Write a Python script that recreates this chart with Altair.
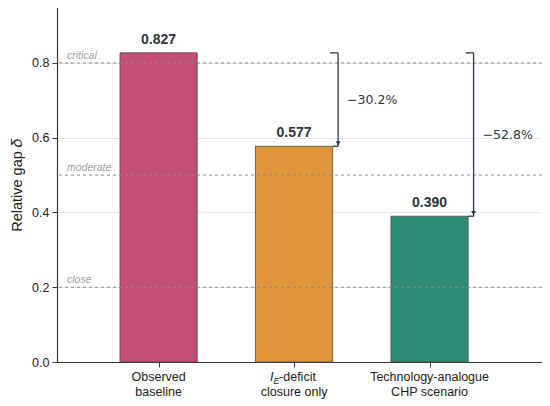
import altair as alt
import pandas as pd

categories = ["Observed baseline", "I_E-deficit closure only", "Technology-analogue CHP scenario"]
line1 = ["Observed", "", "Technology-analogue"]
line2 = ["baseline", "closure only", "CHP scenario"]
values = [0.827, 0.577, 0.390]
value_labels = ["0.827", "0.577", "0.390"]
colors = ["#C44E76", "#E0953B", "#2E8C75"]
positions = [0, 1, 2]

thresholds = [0.8, 0.5, 0.2]
threshold_labels = ["critical", "moderate", "close"]

change_targets = [1, 2]
change_labels = ["\u221230.2%", "\u221252.8%"]

W, H = 485, 354
BAR_HALF = 0.285
ARROW_X = 0.325
TOPTICK_X = 0.265

bars = pd.DataFrame({"pos": positions, "value": values, "label": value_labels,
                     "color": colors, "l1": line1, "l2": line2})
thr = pd.DataFrame({"y": thresholds, "label": threshold_labels})
chg = pd.DataFrame({"pos": change_targets,
                    "top": [values[0]] * len(change_targets),
                    "value": [values[i] for i in change_targets],
                    "label": change_labels})

xscale = alt.Scale(domain=[-0.75, 2.83], nice=False, zero=False)
yscale = alt.Scale(domain=[0, 0.947], nice=False)

base = alt.Chart(bars)

bar_layer = base.transform_calculate(
    x0=f"datum.pos - {BAR_HALF}", x1=f"datum.pos + {BAR_HALF}"
).mark_bar(stroke="#4a4a4a", strokeWidth=0.8, opacity=1).encode(
    x=alt.X("x0:Q", scale=xscale,
            axis=alt.Axis(values=positions, labels=False, title=None, grid=False,
                          ticks=True, tickSize=5, tickColor="#333", domainColor="#333",
                          domainWidth=1.2, tickWidth=1)),
    x2="x1:Q",
    y=alt.Y("value:Q", scale=yscale,
            axis=alt.Axis(values=[0, 0.2, 0.4, 0.6, 0.8], format=".1f",
                          title="Relative gap \U0001D6FF", titleFont="Liberation Sans",
                          titleFontSize=14.5, titleFontWeight="normal", titleColor="#222",
                          titlePadding=7,
                          labelFont="Liberation Sans", labelFontSize=12.5, labelColor="#222",
                          tickSize=5, tickColor="#333", domainColor="#333", domainWidth=1.2,
                          grid=True, gridColor="#e6e6e6", gridWidth=1, labelPadding=3)),
    y2=alt.datum(0),
    color=alt.Color("color:N", scale=None),
)

value_text = base.mark_text(font="Liberation Sans", fontSize=14, fontWeight="bold",
                            color="#2b3642", baseline="bottom", dy=-6).encode(
    x=alt.X("pos:Q", scale=xscale), y=alt.Y("value:Q", scale=yscale), text="label:N")

thr_lines = alt.Chart(thr).mark_rule(color="#8a8a8a", strokeDash=[3, 3], strokeWidth=1).encode(
    y=alt.Y("y:Q", scale=yscale))
thr_text = alt.Chart(thr).mark_text(font="Liberation Sans", fontSize=10.5, fontStyle="italic",
                                    color="#a0a0a0", align="left", baseline="bottom", dy=-2).encode(
    x=alt.value(10), y=alt.Y("y:Q", scale=yscale), text="label:N")

chg_base = alt.Chart(chg).transform_calculate(
    xa=f"datum.pos + {ARROW_X}", xt=f"datum.pos + {TOPTICK_X}", xb=f"datum.pos + {BAR_HALF}",
    mid="(datum.top + datum.value) / 2")
arrow_color = "#2b3642"
vert = chg_base.mark_rule(color=arrow_color, strokeWidth=1.3).encode(
    x=alt.X("xa:Q", scale=xscale), y=alt.Y("top:Q", scale=yscale), y2="value:Q")
toptick = chg_base.mark_rule(color=arrow_color, strokeWidth=1.3).encode(
    x=alt.X("xt:Q", scale=xscale), x2="xa:Q", y=alt.Y("top:Q", scale=yscale))
bottick = chg_base.mark_rule(color=arrow_color, strokeWidth=1.3).encode(
    x=alt.X("xb:Q", scale=xscale), x2="xa:Q", y=alt.Y("value:Q", scale=yscale))
head = chg_base.mark_point(shape="triangle-down", filled=True, size=24, opacity=1,
                           color=arrow_color, yOffset=-3).encode(
    x=alt.X("xa:Q", scale=xscale), y=alt.Y("value:Q", scale=yscale))
chg_text = chg_base.mark_text(font="DejaVu Sans", fontSize=12.5, color="#2b3642",
                              align="left", baseline="middle", dx=9).encode(
    x=alt.X("xa:Q", scale=xscale), y=alt.Y("mid:Q", scale=yscale), text="label:N")

lab_font = dict(font="Liberation Sans", fontSize=12.5, color="#222", baseline="middle")
xl1 = base.mark_text(**lab_font).encode(
    x=alt.X("pos:Q", scale=xscale), y=alt.value(H + 15), text="l1:N")
xl2 = base.mark_text(**lab_font).encode(
    x=alt.X("pos:Q", scale=xscale), y=alt.value(H + 30), text="l2:N")

ie = pd.DataFrame({"pos": [1]})
ie_base = alt.Chart(ie)
ie_I = ie_base.mark_text(font="Liberation Sans", fontSize=12.5, fontStyle="italic", color="#222",
                         align="left", baseline="middle", dx=-24).encode(
    x=alt.X("pos:Q", scale=xscale), y=alt.value(H + 15), text=alt.value("I"))
ie_E = ie_base.mark_text(font="Liberation Sans", fontSize=9, fontStyle="italic", color="#222",
                         align="left", baseline="middle", dx=-20.5, dy=4).encode(
    x=alt.X("pos:Q", scale=xscale), y=alt.value(H + 15), text=alt.value("E"))
ie_rest = ie_base.mark_text(font="Liberation Sans", fontSize=12.5, color="#222",
                            align="left", baseline="middle", dx=-15).encode(
    x=alt.X("pos:Q", scale=xscale), y=alt.value(H + 15), text=alt.value("-deficit"))

chart = alt.layer(
    bar_layer, thr_lines, thr_text, value_text, vert, toptick, bottick, head, chg_text,
    xl1, xl2, ie_I, ie_E, ie_rest
).properties(
    width=W, height=H,
    padding={"left": 49, "top": 0, "right": 0, "bottom": 44},
    autosize="none",
).configure_view(stroke=None).configure_axis(domainCap="square")

chart.save("out.html", embed_options={"renderer": "svg", "actions": False})
